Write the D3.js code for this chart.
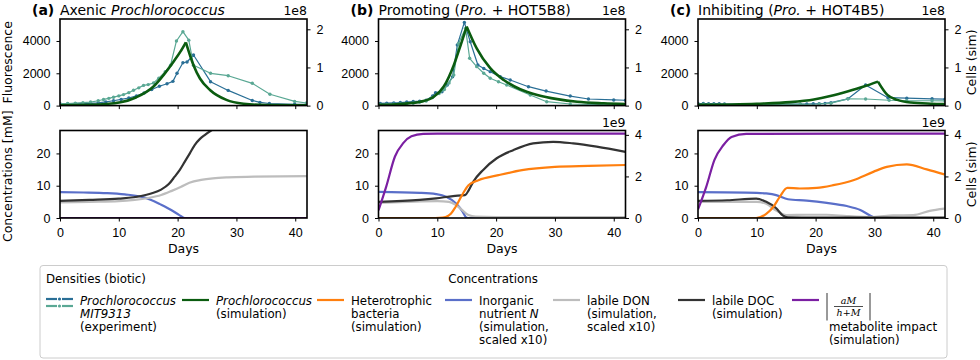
<!DOCTYPE html>
<html>
<head>
<meta charset="utf-8">
<script src="https://cdn.jsdelivr.net/npm/d3@7"></script>
<style>
body { margin: 0; background: #fff; }
svg { font-family: "DejaVu Sans", sans-serif; }
.tick text { font-size: 12.5px; fill: #000; }
.tick line { stroke: #000; }
</style>
</head>
<body>
<svg id="fig" width="980" height="360"></svg>
<script>
// ---- tick labels ----
const dayTicks = [0, 10, 20, 30, 40];
const fluoTicks = [0, 2000, 4000];
const cellTicksTop = [0, 1, 2];     // x 1e8
const concTicks = [0, 10, 20];
const cellTicksBottom = [0, 2, 4];  // x 1e9

const titleTags = ['(a)', '(b)', '(c)'];
const titleTexts = ['Axenic _Prochlorococcus_', 'Promoting (_Pro._ + HOT5B8)', 'Inhibiting (_Pro._ + HOT4B5)'];

// ---- experiment, fluorescence [day, value] ----
const expDarkA = [[0,100],[1.3,100],[2.6,110],[3.9,120],[5.2,140],[6.5,170],[7.8,230],[9.1,300],[10.4,380],[11.7,470],[13,600],[14.3,780],[15.6,1000],[16.9,1200],[18.2,1350],[19.2,1500],[19.9,2000],[20.9,2650],[21.6,2700],[22.7,3130],[25.6,1480],[28.6,940],[32.7,320],[34,200],[35.6,130],[39.9,80],[41.9,80]];
const expTealA = [[0,120],[1.3,130],[2.6,150],[3.9,180],[5.2,220],[6.5,300],[7.4,380],[8.3,450],[9.1,520],[10,600],[10.8,680],[11.7,800],[12.5,950],[13.4,1100],[14.2,1250],[15,1300],[15.9,1400],[16.8,1700],[17.9,2100],[18.8,2500],[19.8,4000],[20.9,4575],[21.9,4050],[22.7,2500],[25.6,2000],[28.6,1850],[32.7,1380],[35.7,700],[39.9,260],[41.9,160]];
const expDarkB = [[0.3,140],[1.4,150],[2.6,170],[3.7,190],[4.8,220],[5.9,250],[7,280],[8.1,330],[9.2,600],[9.7,800],[10.8,860],[11.7,1275],[12.6,1790],[13.4,3750],[14.6,5150],[15.6,3950],[16.9,2510],[17.9,2300],[19,2100],[20.7,1790],[22.4,1585],[25.5,1170],[28.5,900],[32.6,590],[35.7,410],[40,350],[42,330]];
const expTealB = [[0.3,60],[1.4,70],[2.6,80],[3.7,100],[4.8,120],[5.9,150],[7,200],[8.1,280],[9.2,500],[10.3,750],[11.2,1000],[12,1400],[12.8,1890],[13.6,3850],[14.8,4780],[15.5,2930],[16.7,2410],[17.9,2000],[19,1690],[20.4,1480],[21.8,1275],[25.8,655],[28.6,240],[32.6,100],[35.7,70],[40,50],[42,50]];
const expDarkC = [[0,130],[0.9,130],[1.8,120],[2.7,120],[3.6,110],[4.5,100],[17.4,90],[18.5,100],[19.6,110],[20.6,120],[21.6,140],[22.6,180],[25.5,420],[28.5,1275],[32.3,490],[35.5,460],[39.8,420],[42,400]];
const expTealC = [[0,80],[0.9,80],[1.8,70],[2.7,70],[3.6,60],[4.5,60],[17.4,80],[20.6,100],[22.6,150],[25.5,420],[28.5,410],[32.5,330],[35.5,300],[39.8,300],[42,290]];

// ---- simulated Prochlorococcus cells, x 1e8 ----
const simProA = [[0,0.01],[5,0.02],[10.3,0.09],[13,0.22],[15.9,0.5],[17.6,0.8],[19.3,1.15],[20.5,1.42],[21.4,1.66],[22.7,1.06],[23.8,0.71],[25.5,0.41],[28.3,0.15],[31.2,0.05],[35,0.015],[42,0.005]];
const simProB = [[0,0.02],[4.3,0.05],[7.1,0.1],[9.4,0.23],[11.1,0.5],[12.8,1.06],[14,1.6],[15,2.07],[16.7,1.5],[19,0.98],[21.3,0.67],[24.1,0.43],[27,0.28],[30.4,0.17],[33.8,0.1],[38.3,0.06],[42,0.04]];
const simProC = [[0,0.02],[10,0.05],[15.7,0.09],[19.7,0.16],[22.5,0.25],[25.4,0.37],[28.2,0.5],[30.6,0.63],[32.2,0.28],[33.9,0.15],[36.2,0.08],[39.6,0.05],[42,0.04]];

// ---- concentrations [mM] ----
const nutA = [[0,8.0],[4,7.9],[8,7.7],[11,7.3],[13.8,6.6],[15.5,5.6],[17,4.3],[18.9,2.5],[20.3,0.9],[21.2,0],[42,0]];
const donA = [[0,4.8],[5,5.0],[10,5.2],[12.7,5.6],[15,6.2],[17.2,7.1],[19,8.4],[20.6,9.7],[22,10.9],[24,11.8],[26,12.3],[28.5,12.6],[33,12.8],[42,13.0]];
const docA = [[0,5.3],[5,5.6],[10,6.0],[13.8,6.8],[15.5,7.6],[17.2,8.8],[18.5,10.5],[19.5,12.8],[20.4,15],[21.2,17.4],[22.1,20.1],[22.9,22.6],[23.8,24.5],[24.6,25.7],[25.7,27.1],[27,28.5],[30,30],[35,31],[42,31.5]];
const impactA = [[0,0],[42,0]];
const nutB = [[0,8.1],[7,7.8],[9.8,7.4],[11.5,6.6],[13.2,4.5],[14.3,2.0],[14.9,0.2],[15.2,0],[42,0]];
const donB = [[0,4.7],[5,5.0],[10,5.2],[12,5.0],[13.2,4.0],[14.2,2.5],[15.3,0.9],[16.5,0.4],[20,0.3],[42,0.3]];
const docB = [[0,5.0],[7,5.6],[9.8,6.1],[12.7,6.8],[14.7,7.1],[15.4,8.8],[16.1,11.2],[17.8,14.9],[20.1,18.5],[22.9,21],[26.3,23.1],[29.7,23.6],[33.1,23.1],[37.1,22.1],[42,20.5]];
const nutC = [[0,8.0],[10,7.8],[11.6,7.6],[13.3,7.1],[15.3,5.8],[18.5,5.4],[21.9,4.7],[25.3,3.7],[27.6,2.5],[29.8,0.3],[30.5,0],[42,0]];
const donC = [[0,5.0],[10,5.0],[11.6,4.4],[13.3,2.3],[15,0.9],[18.5,1.0],[21.9,1.0],[25.3,0.6],[29.8,0.3],[33.2,0.8],[36.6,0.9],[39.4,2.2],[41.9,2.9]];
const docC = [[0,5.3],[5,5.5],[9.9,6.0],[11.6,5.0],[13.3,3.0],[14.4,0.8],[15.3,0.2],[20,0.1],[42,0.1]];

// ---- heterotroph cells and metabolite impact, x 1e9 ----
const hetB = [[0,0],[9,0],[10.3,0.01],[11.4,0.05],[12.3,0.2],[13.1,0.53],[14.2,1.1],[15.3,1.58],[17,1.82],[20.4,2.06],[24.4,2.3],[30,2.46],[35.7,2.51],[42,2.55]];
const impactB = [[0,0.37],[1.3,1.5],[2.8,2.96],[4.2,3.6],[5.6,3.93],[7.6,4.05],[10,4.06],[42,4.06]];
const hetC = [[0,0],[9.9,0],[11.6,0.2],[12.8,0.53],[13.9,1.02],[15.2,1.45],[17.3,1.42],[20.2,1.45],[23,1.58],[26.4,1.82],[29.8,2.22],[32.1,2.46],[35.5,2.58],[38.9,2.34],[41.9,2.1]];
const impactC = [[0,0.41],[1.4,1.5],[2.8,2.8],[4.3,3.5],[5.7,3.9],[8.2,4.05],[42,4.06]];

const legendLabels = [
    ['_Prochlorococcus_', '_MIT9313_', '(experiment)'],
    ['_Prochlorococcus_', '(simulation)'],
    ['Heterotrophic', 'bacteria', '(simulation)'],
    ['Inorganic', 'nutrient _N_', '(simulation,', 'scaled x10)'],
    ['labile DON', '(simulation,', 'scaled x10)'],
    ['labile DOC', '(simulation)'],
    ['', '', 'metabolite impact', '(simulation)']
];

const col = {
    expDark: '#2a6f96', expTeal: '#5aa894', pro: '#0b5c10',
    het: '#ff7f0e', nut: '#5a6fc9', don: '#bdbdbd', doc: '#333333', impact: '#7b1fa2'
};

const panels = [
    {exp: [expDarkA, expTealA], pro: simProA, nut: nutA, don: donA, doc: docA, het: null, impact: impactA, right: false},
    {exp: [expDarkB, expTealB], pro: simProB, nut: nutB, don: donB, doc: docB, het: hetB, impact: impactB, right: true},
    {exp: [expDarkC, expTealC], pro: simProC, nut: nutC, don: donC, doc: docC, het: hetC, impact: impactC, right: true}
];

const svg = d3.select('#fig');
const panelLeft = [60, 378.5, 698];
const panelW = 247;
const top0 = 19, top1 = 105.6, bot0 = 130.5, bot1 = 218;
const intFmt = d3.format('d');

// text with _italic_ parts
function richText(sel, str) {
    str.split('_').forEach((part, i) => {
        if (!part) return;
        sel.append('tspan').attr('font-style', i % 2 ? 'italic' : null).text(part);
    });
    return sel;
}

function cleanAxis(g) {
    g.select('.domain').remove();
}

function addLine(g, data, xs, ys, color, width, curve) {
    g.append('path')
        .datum(data)
        .attr('fill', 'none')
        .attr('stroke', color)
        .attr('stroke-width', width)
        .attr('stroke-linejoin', 'round')
        .attr('d', d3.line().x(d => xs(d[0])).y(d => ys(d[1])).curve(curve || d3.curveMonotoneX));
}

// simulated growth has a sharp peak: draw both sides separately
function addPeaked(g, data, xs, ys, color, width) {
    const k = d3.maxIndex(data, d => d[1]);
    addLine(g, data.slice(0, k + 1), xs, ys, color, width);
    addLine(g, data.slice(k), xs, ys, color, width);
}

function frame(x0, y0, y1) {
    svg.append('rect')
        .attr('x', x0).attr('y', y0)
        .attr('width', panelW).attr('height', y1 - y0)
        .attr('fill', 'none').attr('stroke', '#000').attr('stroke-width', 1.6);
}

panels.forEach((p, i) => {
    const gx = panelLeft[i];
    const xs = d3.scaleLinear().domain([0, 42]).range([gx, gx + panelW]);
    const yF = d3.scaleLinear().domain([0, 5360]).range([top1, top0]);
    const yC = d3.scaleLinear().domain([0, 2.27]).range([top1, top0]);
    const yM = d3.scaleLinear().domain([0, 27.1]).range([bot1, bot0]);
    const yB = d3.scaleLinear().domain([0, 4.21]).range([bot1, bot0]);

    // clip paths
    [['t', top0, top1], ['b', bot0, bot1]].forEach(([k, y0, y1]) => {
        svg.append('clipPath').attr('id', `clip${k}${i}`)
            .append('rect').attr('x', gx).attr('y', y0).attr('width', panelW).attr('height', y1 - y0);
    });

    // ---- top: densities ----
    const gt = svg.append('g').attr('clip-path', `url(#clipt${i})`);
    p.exp.forEach((data, j) => {
        const c = j === 0 ? col.expDark : col.expTeal;
        addLine(gt, data, xs, yF, c, 1.2, d3.curveLinear);
        gt.selectAll(null).data(data).join('circle')
            .attr('cx', d => xs(d[0])).attr('cy', d => yF(d[1]))
            .attr('r', 1.7).attr('fill', c);
    });
    addPeaked(gt, p.pro, xs, yC, col.pro, 2.6);

    svg.append('g').attr('transform', `translate(0,${top1})`)
        .call(d3.axisBottom(xs).tickValues(dayTicks).tickSize(3.5).tickFormat(''))
        .call(cleanAxis);
    svg.append('g').attr('transform', `translate(${gx},0)`)
        .call(d3.axisLeft(yF).tickValues(fluoTicks).tickSize(3.5).tickPadding(6).tickFormat(intFmt))
        .call(cleanAxis);
    svg.append('g').attr('transform', `translate(${gx + panelW},0)`)
        .call(d3.axisRight(yC).tickValues(cellTicksTop).tickSize(3.5).tickPadding(6).tickFormat(intFmt))
        .call(cleanAxis);
    svg.append('text').attr('x', gx + panelW).attr('y', 15)
        .attr('text-anchor', 'end').attr('font-size', 12.5).text('1e8');
    frame(gx, top0, top1);

    // ---- bottom: concentrations ----
    const gb = svg.append('g').attr('clip-path', `url(#clipb${i})`);
    addLine(gb, p.nut, xs, yM, col.nut, 2.2);
    addLine(gb, p.don, xs, yM, col.don, 2.2);
    addLine(gb, p.doc, xs, yM, col.doc, 2.2);
    if (p.het) addLine(gb, p.het, xs, yB, col.het, 2.2);
    addLine(gb, p.impact, xs, p.right ? yB : yM, col.impact, 2.2);

    svg.append('g').attr('transform', `translate(0,${bot1})`)
        .call(d3.axisBottom(xs).tickValues(dayTicks).tickSize(3.5).tickPadding(6.5))
        .call(cleanAxis);
    svg.append('g').attr('transform', `translate(${gx},0)`)
        .call(d3.axisLeft(yM).tickValues(concTicks).tickSize(3.5).tickPadding(6))
        .call(cleanAxis);
    if (p.right) {
        svg.append('g').attr('transform', `translate(${gx + panelW},0)`)
            .call(d3.axisRight(yB).tickValues(cellTicksBottom).tickSize(3.5).tickPadding(6).tickFormat(intFmt))
            .call(cleanAxis);
        svg.append('text').attr('x', gx + panelW).attr('y', 127)
            .attr('text-anchor', 'end').attr('font-size', 12.5).text('1e9');
    }
    frame(gx, bot0, bot1);

    svg.append('text').attr('x', gx + panelW / 2).attr('y', 253)
        .attr('text-anchor', 'middle').attr('font-size', 12.5).text('Days');

    // title
    svg.append('text').attr('x', gx - 28).attr('y', 15)
        .attr('font-size', 14).attr('font-weight', 'bold').text(titleTags[i]);
    richText(svg.append('text').attr('x', gx).attr('y', 15).attr('font-size', 14), titleTexts[i]);
});

// axis labels
function vLabel(x, y, txt) {
    svg.append('text')
        .attr('transform', `translate(${x},${y}) rotate(-90)`)
        .attr('dy', '0.35em').attr('text-anchor', 'middle')
        .attr('font-size', 12.5).text(txt);
}
vLabel(8, (top0 + top1) / 2, 'Fluorescence');
vLabel(8, (bot0 + bot1) / 2 + 2, 'Concentrations [mM]');
vLabel(972, (top0 + top1) / 2, 'Cells (sim)');
vLabel(972, (bot0 + bot1) / 2, 'Cells (sim)');

// ---- legend ----
const lg = svg.append('g').attr('font-size', 11.8);
lg.append('rect')
    .attr('x', 40).attr('y', 265.5).attr('width', 907).attr('height', 92.5)
    .attr('rx', 3).attr('fill', '#fff').attr('stroke', '#cccccc').attr('stroke-width', 1);
lg.append('text').attr('x', 46).attr('y', 283).text('Densities (biotic)');
lg.append('text').attr('x', 493).attr('y', 283).attr('text-anchor', 'middle').text('Concentrations');

const handleX = [46, 182, 317, 445, 553, 678, 792];
const handleCols = [null, col.pro, col.het, col.nut, col.don, col.doc, col.impact];
legendLabels.forEach((lines, k) => {
    const hx = handleX[k];
    if (k === 0) {
        [[col.expDark, 299], [col.expTeal, 306]].forEach(([c, yy]) => {
            lg.append('line').attr('x1', hx).attr('x2', hx + 11).attr('y1', yy).attr('y2', yy)
                .attr('stroke', c).attr('stroke-width', 2.2);
            lg.append('line').attr('x1', hx + 16).attr('x2', hx + 27).attr('y1', yy).attr('y2', yy)
                .attr('stroke', c).attr('stroke-width', 2.2);
            lg.append('circle').attr('cx', hx + 13.5).attr('cy', yy).attr('r', 1.6).attr('fill', c);
        });
    } else {
        lg.append('line').attr('x1', hx).attr('x2', hx + 27).attr('y1', 300).attr('y2', 300)
            .attr('stroke', handleCols[k]).attr('stroke-width', 2.2);
    }
    lines.forEach((ln, r) => {
        if (!ln) return;
        richText(lg.append('text').attr('x', hx + 34 + (k === 6 ? 3 : 0)).attr('y', 305 + r * 13), ln);
    });
});

// |aM / (h+M)| formula
const fm = lg.append('g').attr('font-family', '"DejaVu Serif", "Liberation Serif", serif')
    .attr('font-style', 'italic').attr('font-size', 9.5);
[827, 870].forEach(bx => {
    fm.append('line').attr('x1', bx).attr('x2', bx).attr('y1', 293).attr('y2', 320.5)
        .attr('stroke', '#000').attr('stroke-width', 0.8);
});
fm.append('text').attr('x', 848.5).attr('y', 304).attr('text-anchor', 'middle').text('aM');
fm.append('line').attr('x1', 834).attr('x2', 863).attr('y1', 306.5).attr('y2', 306.5)
    .attr('stroke', '#000').attr('stroke-width', 0.7);
const hm = fm.append('text').attr('x', 848.5).attr('y', 316).attr('text-anchor', 'middle');
hm.append('tspan').text('h');
hm.append('tspan').attr('font-style', 'normal').text('+');
hm.append('tspan').text('M');
</script>
</body>
</html>
